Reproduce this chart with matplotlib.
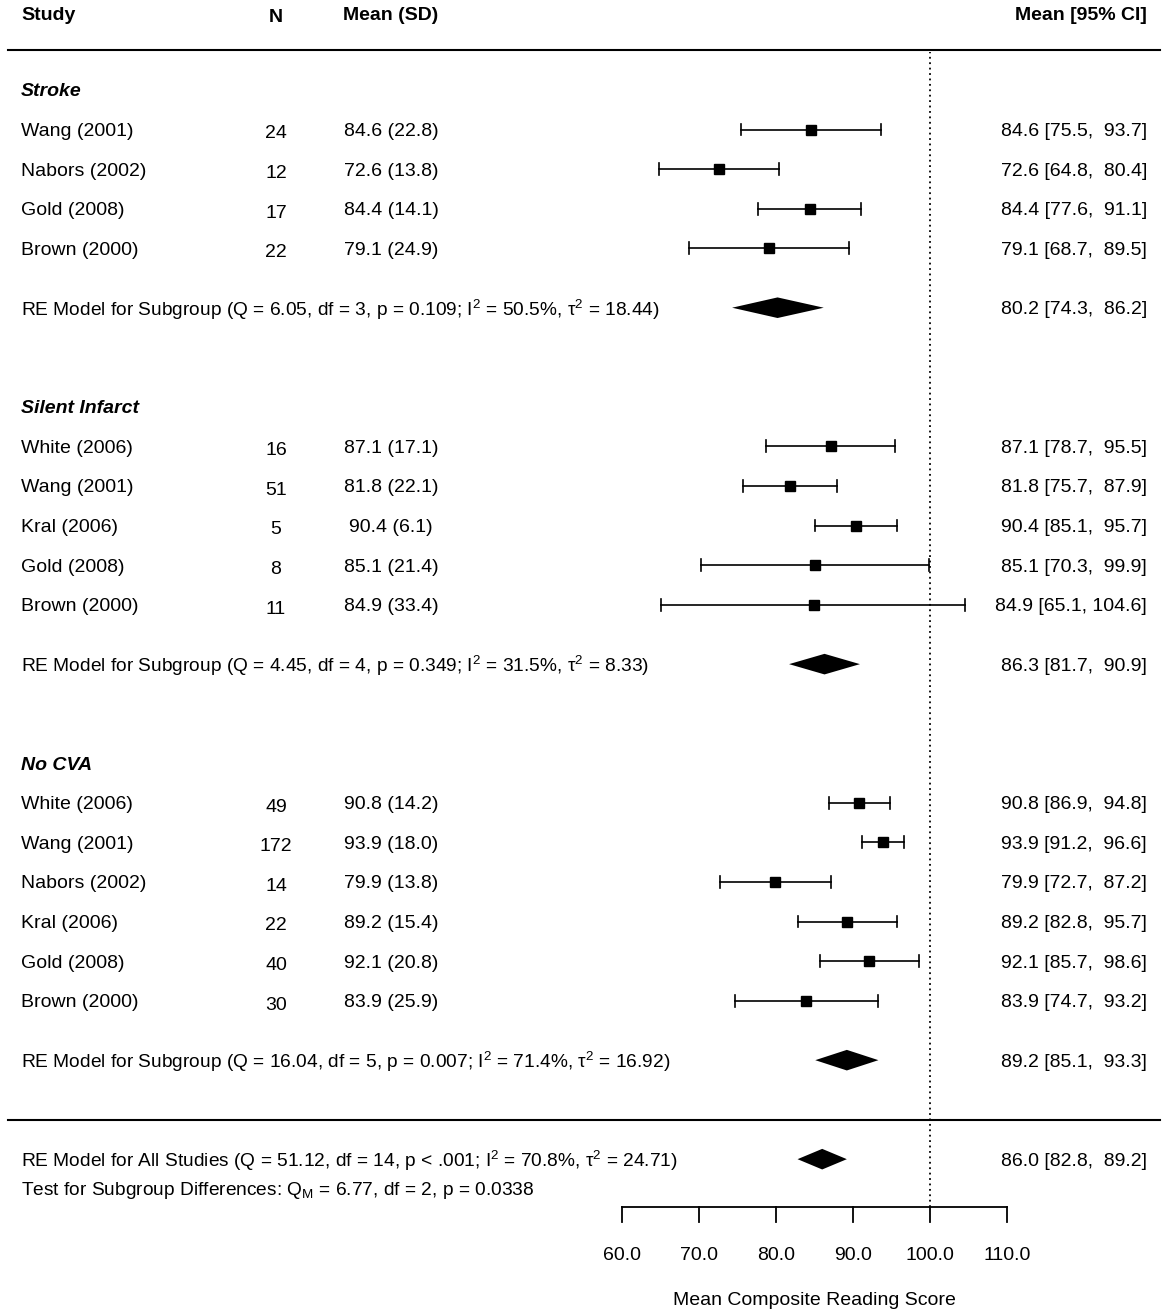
import matplotlib
matplotlib.use("Agg")
import matplotlib.pyplot as plt

plt.rcParams['font.family'] = ['Liberation Sans', 'DejaVu Sans']
plt.rcParams['mathtext.fontset'] = 'custom'
plt.rcParams['mathtext.rm'] = 'Liberation Sans'
plt.rcParams['mathtext.it'] = 'Liberation Sans:italic'

# Study data
groups = ["Stroke", "Silent Infarct", "No CVA"]
studies = [
    ["Wang (2001)", "Nabors (2002)", "Gold (2008)", "Brown (2000)"],
    ["White (2006)", "Wang (2001)", "Kral (2006)", "Gold (2008)", "Brown (2000)"],
    ["White (2006)", "Wang (2001)", "Nabors (2002)", "Kral (2006)", "Gold (2008)", "Brown (2000)"],
]
n_vals = [[24, 12, 17, 22], [16, 51, 5, 8, 11], [49, 172, 14, 22, 40, 30]]
means = [[84.6, 72.6, 84.4, 79.1], [87.1, 81.8, 90.4, 85.1, 84.9],
         [90.8, 93.9, 79.9, 89.2, 92.1, 83.9]]
sds = [[22.8, 13.8, 14.1, 24.9], [17.1, 22.1, 6.1, 21.4, 33.4],
       [14.2, 18.0, 13.8, 15.4, 20.8, 25.9]]
ci_lo = [[75.5, 64.8, 77.6, 68.7], [78.7, 75.7, 85.1, 70.3, 65.1],
         [86.9, 91.2, 72.7, 82.8, 85.7, 74.7]]
ci_hi = [[93.7, 80.4, 91.1, 89.5], [95.5, 87.9, 95.7, 99.9, 104.6],
         [94.8, 96.6, 87.2, 95.7, 98.6, 93.2]]

# Subgroup random-effects summaries
re_est = [80.2, 86.3, 89.2]
re_lo = [74.3, 81.7, 85.1]
re_hi = [86.2, 90.9, 93.3]
re_labels = [
    r"RE Model for Subgroup (Q = 6.05, df = 3, p = 0.109; I$^2$ = 50.5%, τ$^2$ = 18.44)",
    r"RE Model for Subgroup (Q = 4.45, df = 4, p = 0.349; I$^2$ = 31.5%, τ$^2$ = 8.33)",
    r"RE Model for Subgroup (Q = 16.04, df = 5, p = 0.007; I$^2$ = 71.4%, τ$^2$ = 16.92)",
]
all_est, all_lo, all_hi = 86.0, 82.8, 89.2
all_label = r"RE Model for All Studies (Q = 51.12, df = 14, p < .001; I$^2$ = 70.8%, τ$^2$ = 24.71)"
test_label = r"Test for Subgroup Differences: Q$_\mathrm{M}$ = 6.77, df = 2, p = 0.0338"

xticks = [60, 70, 80, 90, 100, 110]
ref_line = 100

# row layout (rows counted from the bottom, like metafor)
study_rows = [[27, 26, 25, 24], [19, 18, 17, 16, 15], [10, 9, 8, 7, 6, 5]]
head_rows = [28, 20, 11]
re_rows = [22.5, 13.5, 3.5]

fig = plt.figure(figsize=(11.69, 13.16), dpi=100)
ax = fig.add_axes([0, 0, 1, 1])
ax.set_xlim(-20.78, 131.04)
ax.set_ylim(-2.96, 30.27)
ax.axis("off")

fs = 14
fs_model = 13.75
dy = -0.05  # small nudge so text sits on the row like the original
x_study, x_n, x_msd, x_ci = -18.05, 15.06, 30.0, 128.18

def fmt_ci(e, lo, hi):
    return f"{e:.1f} [{lo:4.1f}, {hi:5.1f}]".replace("[ ", "[")

# header
ax.text(x_study, 29.94 + dy, "Study", fontsize=fs, fontweight="bold", ha="left", va="center")
ax.text(x_n, 29.87 + dy, "N", fontsize=fs, fontweight="bold", ha="center", va="center")
ax.text(x_msd, 29.94 + dy, "Mean (SD)", fontsize=fs, fontweight="bold", ha="center", va="center")
ax.text(x_ci, 29.94 + dy, "Mean [95% CI]", fontsize=fs, fontweight="bold", ha="right", va="center")

ax.plot([-19.75, 129.9], [29, 29], color="black", lw=1.5)
ax.plot([-19.75, 129.9], [2, 2], color="black", lw=1.5)
ax.plot([ref_line, ref_line], [-0.21, 28.95], color="black", lw=1.3, ls=(0, (1, 2)))

def diamond(est, lo, hi, y):
    ax.fill([lo, est, hi, est], [y, y + 0.26, y, y - 0.26], color="black", lw=0)

for g in range(len(groups)):
    ax.text(x_study, head_rows[g] + dy, groups[g], fontsize=fs, fontweight="bold",
            fontstyle="italic", ha="left", va="center")
    for i, y in enumerate(study_rows[g]):
        ax.text(x_study, y + dy, studies[g][i], fontsize=fs, ha="left", va="center")
        ax.text(x_n, y - 0.06 + dy, str(n_vals[g][i]), fontsize=fs, ha="center", va="center")
        ax.text(x_msd, y + dy, f"{means[g][i]:.1f} ({sds[g][i]:.1f})", fontsize=fs,
                ha="center", va="center")
        ax.text(x_ci, y + dy, fmt_ci(means[g][i], ci_lo[g][i], ci_hi[g][i]), fontsize=fs,
                ha="right", va="center")
        ax.plot([ci_lo[g][i], ci_hi[g][i]], [y, y], color="black", lw=1.2)
        for v in (ci_lo[g][i], ci_hi[g][i]):
            ax.plot([v, v], [y - 0.15, y + 0.15], color="black", lw=1.2)
        ax.plot(means[g][i], y, marker="s", ms=6.5, color="black", ls="none")
    y = re_rows[g]
    ax.text(x_study, y + dy, re_labels[g], fontsize=fs_model, ha="left", va="center")
    ax.text(x_ci, y + dy, fmt_ci(re_est[g], re_lo[g], re_hi[g]), fontsize=fs,
            ha="right", va="center")
    diamond(re_est[g], re_lo[g], re_hi[g], y)

ax.text(x_study, 1 + dy, all_label, fontsize=fs_model, ha="left", va="center")
ax.text(x_ci, 1 + dy, fmt_ci(all_est, all_lo, all_hi), fontsize=fs, ha="right", va="center")
diamond(all_est, all_lo, all_hi, 1)
ax.text(x_study, 0.27 + dy, test_label, fontsize=fs_model, ha="left", va="center")

# x axis drawn by hand, forest-plot style
ax.plot([xticks[0], xticks[-1]], [-0.21, -0.21], color="black", lw=1.3)
for t in xticks:
    ax.plot([t, t], [-0.21, -0.59], color="black", lw=1.3)
    ax.text(t, -1.42, f"{t:.1f}", fontsize=fs, ha="center", va="center")
ax.text(85, -2.56, "Mean Composite Reading Score", fontsize=fs, ha="center", va="center")

fig.savefig("out.png", dpi=100)
